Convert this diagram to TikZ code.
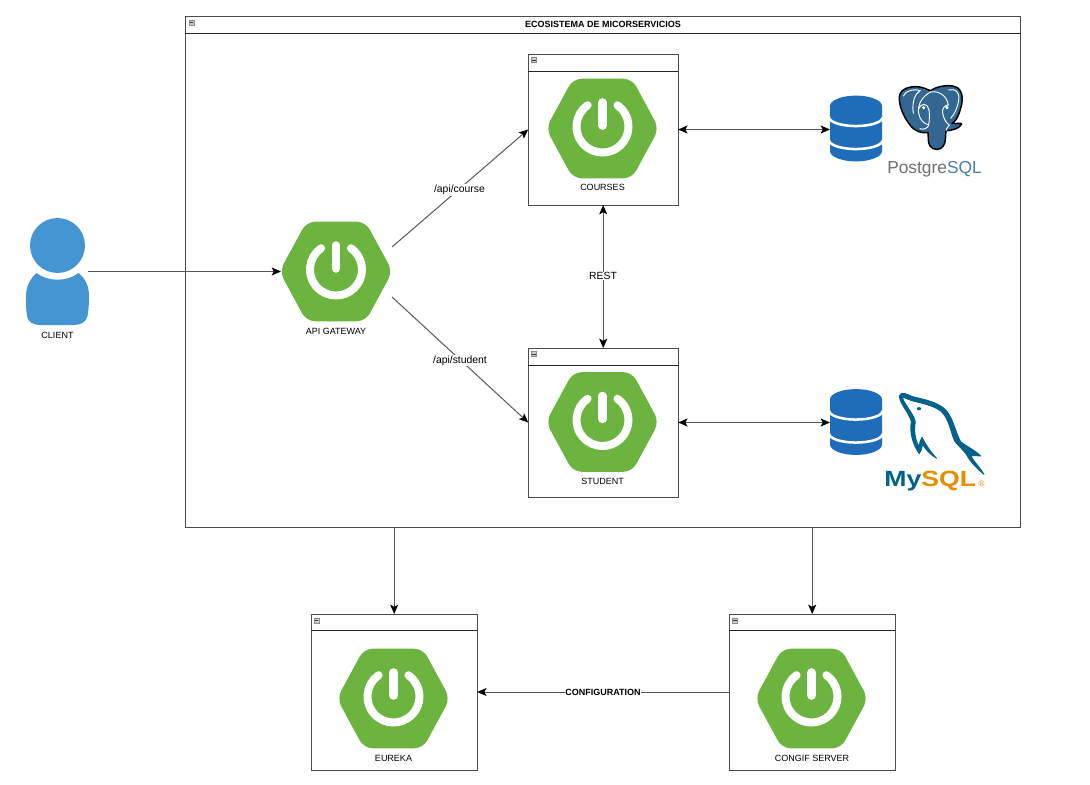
\documentclass[tikz,border=0pt]{standalone}
\usepackage{fontspec}
\setmainfont{Liberation Sans}
\usetikzlibrary{arrows.meta,calc}
\definecolor{springgreen}{HTML}{6DB33F}
\definecolor{userblue}{HTML}{4595D3}
\definecolor{dbblue}{HTML}{1F6DB8}
\definecolor{pgblue}{HTML}{336791}
\definecolor{sqlblue}{HTML}{4B7DAE}
\definecolor{pggray}{HTML}{707070}
\definecolor{myteal}{HTML}{00618A}
\definecolor{myorange}{HTML}{E48E00}
\tikzset{
  lbl/.style={font=\fontsize{6.75pt}{8pt}\selectfont,inner sep=0.5pt,text=black},
  edgelbl/.style={font=\fontsize{7.8pt}{9pt}\selectfont,inner sep=0.5pt,text=black,fill=white},
  framebox/.style={draw=black!70,line width=0.75pt,fill=white,inner sep=0pt,outer sep=0pt},
  hdr/.style={draw=black!85,line width=0.75pt},
  link/.style={draw=black!65,line width=0.75pt,-{Stealth[length=7pt,width=6pt,inset=1.6pt,color=black]}},
  biglink/.style={draw=black!65,line width=0.75pt,{Stealth[length=7pt,width=6pt,inset=1.6pt,color=black]}-{Stealth[length=7pt,width=6pt,inset=1.6pt,color=black]}},
  anchorbox/.style={inner sep=0pt,outer sep=0pt,minimum width=#1},
  pics/spring/.style={code={
    \begin{scope}[y=0.75pt]
      \fill[springgreen,rounded corners=6.5pt]
        (-56.5,0) -- (-29.5,49.8) -- (29.5,49.8) -- (56.5,0) -- (29.5,-49.8) -- (-29.5,-49.8) -- cycle;
      \draw[white,line width=6pt,line cap=round]
        (0,2) ++(55:26) arc[start angle=55,end angle=-235,radius=19.5pt];
      \draw[white,line width=6.4pt,line cap=round] (0,26) -- (0,3);
    \end{scope}
  }},
  pics/collapse/.style={code={
    \fill[black!20] (-2.5,-2.5) rectangle (2.5,2.5);
    \draw[black!45,line width=0.3pt] (-2.5,-2.5) rectangle (2.5,2.5);
    \draw[black!80,line width=0.7pt] (-1.7,0) -- (1.7,0);
  }},
  pics/database/.style={code={
    \begin{scope}[y=0.75pt]
      \fill[dbblue] (-26,22.5) arc[x radius=19.5pt,y radius=7.8pt,start angle=180,end angle=0]
        -- (26,-22.5) arc[x radius=19.5pt,y radius=7.8pt,start angle=0,end angle=-180] -- cycle;
      \draw[white,line width=1.9pt] (-27,11.5) arc[x radius=20.2pt,y radius=6.8pt,start angle=180,end angle=360];
      \draw[white,line width=1.9pt] (-27,-11.5) arc[x radius=20.2pt,y radius=6.8pt,start angle=180,end angle=360];
    \end{scope}
  }}
}
\begin{document}
\begin{tikzpicture}[x=0.75pt,y=-0.75pt]
\useasboundingbox (0,0) rectangle (1090,785);
\fill[white] (0,0) rectangle (1090,785);

% ---- frames
\node[framebox,minimum width=626.6pt,minimum height=383.25pt] (main) at (603.25,271.5) {};
\node[framebox,minimum width=112.5pt,minimum height=113.25pt] (courses) at (603.2,129.5) {};
\node[framebox,minimum width=112.5pt,minimum height=111.75pt] (student) at (603.2,422.5) {};
\node[framebox,minimum width=124.5pt,minimum height=117pt] (eureka) at (394.2,692) {};
\node[framebox,minimum width=124.5pt,minimum height=117pt] (config) at (812.2,692) {};

\draw[hdr] (186,33) -- (1021,33);
\draw[hdr] (528,71) -- (678,71);
\draw[hdr] (528,365) -- (678,365);
\draw[hdr] (311,630) -- (477,630);
\draw[hdr] (729,630) -- (895,630);
\pic at (191.5,22.5) {collapse};
\pic at (534,60) {collapse};
\pic at (534,354) {collapse};
\pic at (316.5,620.5) {collapse};
\pic at (735,620.5) {collapse};

% ---- spring icons
\pic at (602.5,128.5) {spring};
\pic at (602.5,422) {spring};
\pic at (336,271.5) {spring};
\pic at (393.5,698.5) {spring};
\pic at (811.5,698.5) {spring};
\node[anchorbox=82.5pt,minimum height=75pt] (gateway) at (336,271.5) {};

% ---- labels
\node[lbl,font=\fontsize{6.75pt}{8pt}\selectfont\bfseries] (title) at (603,24.5) {ECOSISTEMA DE MICORSERVICIOS};
\node[lbl] (lcourses) at (602.5,187.5) {COURSES};
\node[lbl] (lstudent) at (602.5,481.5) {STUDENT};
\node[lbl] (lgateway) at (336,331) {API GATEWAY};
\node[lbl] (leureka) at (393.5,758) {EUREKA};
\node[lbl] (lconfig) at (812,758) {CONGIF SERVER};
\node[lbl] (lclient) at (57.5,335) {CLIENT};

% ---- client
\fill[userblue] (57.5,245.5) circle[radius=20.6pt];
\fill[userblue] (36.5,273) .. controls (48,282) and (67,282) .. (78.5,273)
  .. controls (86,279) and (89,287) .. (89,296)
  .. controls (89,304) and (88.5,311) .. (87.5,316)
  .. controls (86,322) and (81,325) .. (74,325)
  -- (41,325)
  .. controls (33,325) and (28,322) .. (27,316)
  .. controls (26,310) and (26,304) .. (26,296)
  .. controls (26,287) and (30,279) .. (36.5,273) -- cycle;
\node[anchorbox=46.5pt,minimum height=80.25pt] (client) at (57,271.5) {};

% ---- databases
\pic at (856,128.5) {database};
\pic at (856,422) {database};
\node[anchorbox=39pt,minimum height=48pt] (dbpg) at (856,129.5) {};
\node[anchorbox=39pt,minimum height=48pt] (dbmy) at (856,422.5) {};

% ---- PostgreSQL logo (coordinates in 3x crop pixels)
\begin{scope}[shift={(820,70)},x=0.25pt,y=-0.25pt]
  \draw[black,line width=1.1pt,fill=pgblue,line join=round]
    (238,80) .. controls (240,55) and (275,45) .. (305,52)
    .. controls (322,57) and (328,62) .. (332,62)
    .. controls (350,48) and (395,40) .. (415,55)
    .. controls (432,72) and (428,100) .. (418,128)
    .. controls (412,145) and (405,155) .. (396,160)
    .. controls (410,162) and (425,158) .. (425,162)
    .. controls (420,175) and (395,182) .. (378,182)
    .. controls (376,200) and (378,215) .. (370,228)
    .. controls (360,242) and (340,242) .. (330,228)
    .. controls (322,215) and (326,200) .. (324,188)
    .. controls (305,190) and (285,185) .. (270,165)
    .. controls (250,140) and (236,105) .. (238,80) -- cycle;
  \draw[white,line width=0.7pt,line cap=round]
    (332,66) .. controls (305,80) and (292,105) .. (296,130)
    .. controls (300,150) and (310,160) .. (326,165);
  \draw[white,line width=0.7pt,line cap=round]
    (332,66) .. controls (355,62) and (380,75) .. (385,105)
    .. controls (375,105) and (365,115) .. (368,130)
    .. controls (372,150) and (380,160) .. (388,165)
    .. controls (380,175) and (378,180) .. (378,182);
  \draw[white,line width=0.7pt,line cap=round]
    (296,130) .. controls (290,110) and (310,95) .. (322,108)
    .. controls (332,122) and (328,150) .. (326,165)
    .. controls (326,172) and (310,182) .. (300,176);
  \draw[white,line width=0.7pt,line cap=round]
    (250,78) .. controls (255,62) and (285,55) .. (300,62)
    .. controls (285,72) and (275,95) .. (280,130);
  \draw[white,line width=0.7pt,line cap=round]
    (386,60) .. controls (405,55) and (420,65) .. (416,90)
    .. controls (412,115) and (405,130) .. (392,145);
  \fill[white] (311,113) circle[radius=1.3pt];
  \fill[white] (381,113) circle[radius=1.3pt];
\end{scope}
\node[inner sep=0pt,anchor=base west,font=\fontsize{13pt}{14pt}\selectfont] (pglogo) at (887,173.5)
  {\textcolor{pggray}{Postgre}\textcolor{sqlblue}{SQL}};

% ---- MySQL logo (coordinates in 3x crop pixels)
\begin{scope}[shift={(820,375)},x=0.25pt,y=-0.25pt]
  \filldraw[myteal,line width=0.6pt,line join=round]
    (238,62) .. controls (245,48) and (262,58) .. (275,64)
    .. controls (305,72) and (345,78) .. (372,100)
    .. controls (400,125) and (405,170) .. (422,200)
    .. controls (435,212) and (465,225) .. (482,243)
    .. controls (470,243) and (462,240) .. (452,242)
    .. controls (462,260) and (480,278) .. (492,298)
    .. controls (472,282) and (452,262) .. (440,240)
    .. controls (430,225) and (415,212) .. (405,200)
    .. controls (392,175) and (388,130) .. (362,108)
    .. controls (338,90) and (300,84) .. (272,76)
    .. controls (262,72) and (250,66) .. (247,68)
    .. controls (255,90) and (280,115) .. (286,140)
    .. controls (282,165) and (284,195) .. (298,215)
    .. controls (298,205) and (300,195) .. (306,187)
    .. controls (318,210) and (335,235) .. (350,250)
    .. controls (330,238) and (315,222) .. (308,208)
    .. controls (305,220) and (303,230) .. (298,236)
    .. controls (278,210) and (268,170) .. (274,140)
    .. controls (268,115) and (238,85) .. (238,62) -- cycle;
  \fill[myteal] (297,101) ellipse[x radius=1.6pt,y radius=1.2pt];
\end{scope}
\node[inner sep=0pt,anchor=base west,xscale=1.21,transform shape,font=\fontsize{16.5pt}{18pt}\selectfont\bfseries] (mylogo) at (884,486.5)
  {\textcolor{myteal}{My}\textcolor{myorange}{SQL}};
\node[inner sep=0pt,text=myorange,font=\fontsize{6pt}{6pt}\selectfont] (myreg) at (981.5,483.5) {®};

% ---- connectors
\coordinate (gwup) at (392,247);
\coordinate (gwdown) at (392,297);
\draw[link] (client.east) -- (gateway.west);
\draw[link] (gwup) -- (courses.west);
\draw[link] (gwdown) -- (student.west);
\draw[biglink] (courses.east) -- (dbpg.west);
\draw[biglink] (student.east) -- (dbmy.west);
\draw[biglink] (courses.south) -- (student.north);
\draw[link] (main.south -| eureka.north) -- (eureka.north);
\draw[link] (main.south -| config.north) -- (config.north);
\draw[link] (config.west) -- (eureka.east);

\node[edgelbl] (lrest) at (603,276) {REST};
\node[edgelbl] (lapic) at (459.5,190) {/api/course};
\node[edgelbl] (lapis) at (460,360.5) {/api/student};
\node[lbl,fill=white,font=\fontsize{6.75pt}{8pt}\selectfont\bfseries] (lcfg) at (603,692) {CONFIGURATION};
\end{tikzpicture}
\end{document}
